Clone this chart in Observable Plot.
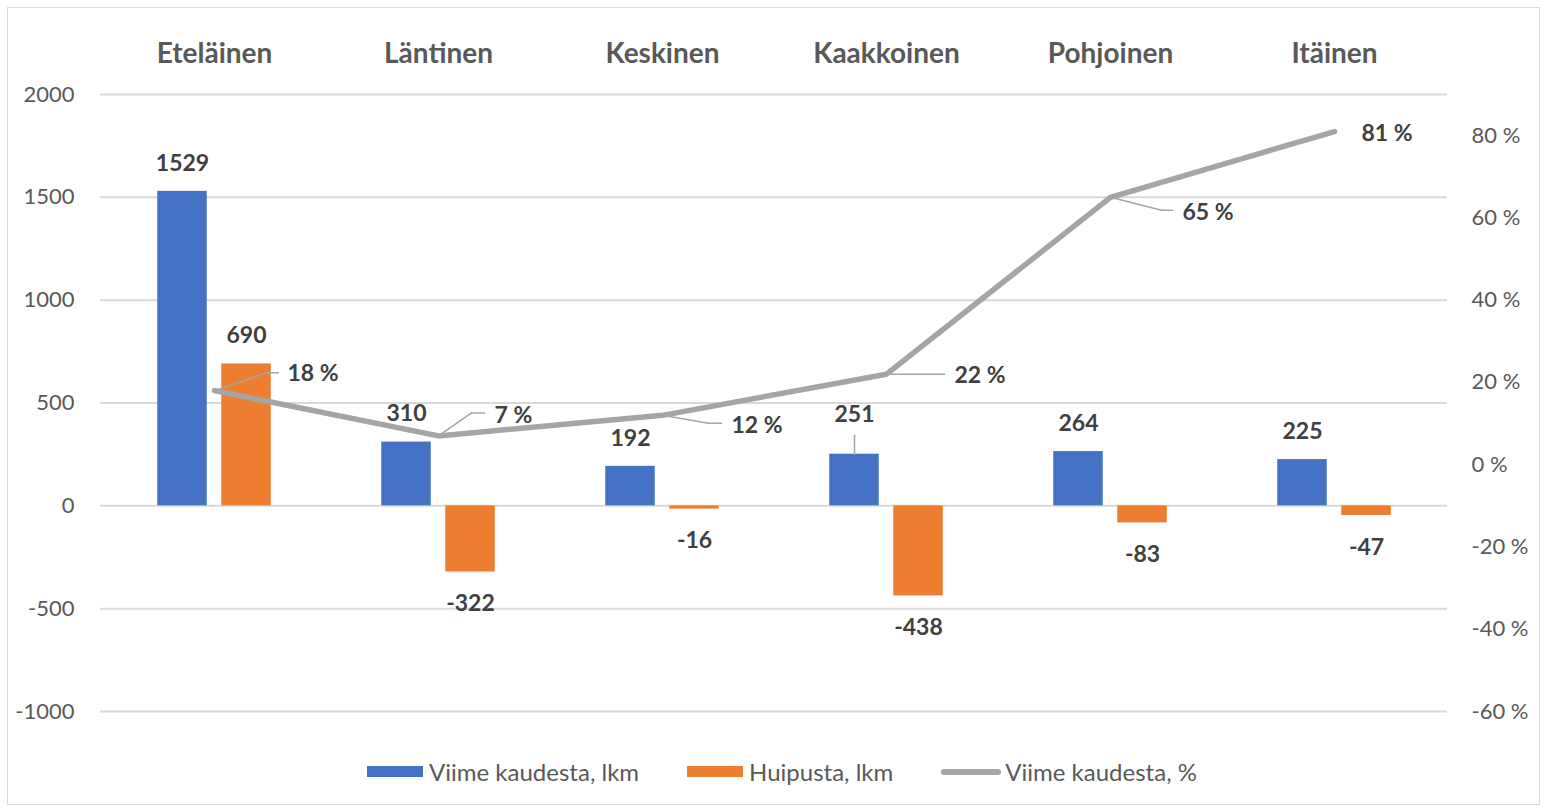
<!DOCTYPE html>
<html>
<head>
<meta charset="utf-8">
<script src="https://cdn.jsdelivr.net/npm/d3@7"></script>
<script src="https://cdn.jsdelivr.net/npm/@observablehq/plot@0.6"></script>
<style>
  html, body { margin: 0; padding: 0; background: #fff; }
  body { width: 1546px; height: 811px; position: relative; overflow: hidden; font-family: Lato, "Open Sans", sans-serif; }
  #frame { position: absolute; left: 7px; top: 7px; width: 1533px; height: 798px; border: 1.5px solid #D9D9D9; box-sizing: border-box; }
  #chart { position: absolute; left: 0; top: 0; }
  #legend { position: absolute; left: 18px; top: 757px; width: 1528px; display: flex; justify-content: center; align-items: center; gap: 48px; font-size: 24px; color: #595959; }
  .item { display: flex; align-items: center; }
  .sw { width: 56px; height: 11px; margin-right: 6px; }
  .ln { width: 60px; height: 6px; border-radius: 3px; margin-right: 4px; }
</style>
</head>
<body>
<div id="frame"></div>
<div id="chart"></div>
<div id="legend"></div>
<script>
// ---- data ----
const regions = ["Eteläinen", "Läntinen", "Keskinen", "Kaakkoinen", "Pohjoinen", "Itäinen"];
const fromLastCount = [1529, 310, 192, 251, 264, 225];      // Viime kaudesta, lkm
const fromPeakCount = [690, -322, -16, -438, -83, -47];     // Huipusta, lkm
const fromLastPct = [18, 7, 12, 22, 65, 81];                // Viime kaudesta, %
const leftTicks = [-1000, -500, 0, 500, 1000, 1500, 2000];
const pctTicks = [-60, -40, -20, 0, 20, 40, 60, 80];
const seriesNames = ["Viime kaudesta, lkm", "Huipusta, lkm", "Viime kaudesta, %"];
const seriesColors = ["#4472C4", "#ED7D31", "#A5A5A5"];

// ---- layout / styling ----
const W = 1546, H = 760;
const mL = 100, mR = 99, mT = 94, mB = 49;
const leftDomain = [-1000, 2000];
const pctDomain = [-60, 90];
// map secondary (percent) axis onto primary scale
const toLeft = p => leftDomain[0] + (p - pctDomain[0]) / (pctDomain[1] - pctDomain[0]) * (leftDomain[1] - leftDomain[0]);
const fromLeft = v => Math.round(pctDomain[0] + (v - leftDomain[0]) / (leftDomain[1] - leftDomain[0]) * (pctDomain[1] - pctDomain[0]));

const bandW = (W - mL - mR) / regions.length;
const barW = 50, barGap = 14;
const outer = (bandW - 2 * barW - barGap) / 2;
const barOffset = (barW + barGap) / 2;

// manual label placements (pixel offsets, like Excel's hand-moved labels)
const blueLabelLift = {"Kaakkoinen": 12};
const pctLabelPlacement = [
  {dx: 73, dy: -17, elbow: [53, -18], end: 64},
  {dx: 56, dy: -20, elbow: [33, -23], end: 46},
  {dx: 69, dy: 10, elbow: [46, 8], end: 59},
  {dx: 68, dy: 1, elbow: [5, 0], end: 58},
  {dx: 72, dy: 15, elbow: [51, 13], end: 62},
  {dx: 27, dy: 2, elbow: null}
];

const rows = regions.map((r, i) => ({region: r, last: fromLastCount[i], peak: fromPeakCount[i], pct: fromLastPct[i], place: pctLabelPlacement[i]}));

const lineShape = {draw(context, l) { context.moveTo(0, 0); context.lineTo(0, -l); }};
const labelFont = {fontSize: 23, fontWeight: "bold", fill: "#404040"};
const leaderStyle = {stroke: "#A5A5A5", strokeWidth: 1.5, anchor: "start", shape: lineShape};

const marks = [
  Plot.ruleY(leftTicks, {stroke: "#D9D9D9", strokeWidth: 2}),
  Plot.barY(rows, {x: "region", y1: 0, y2: "last", fill: seriesColors[0], insetLeft: outer, insetRight: outer + barW + barGap}),
  Plot.barY(rows, {x: "region", y1: 0, y2: "peak", fill: seriesColors[1], insetLeft: outer + barW + barGap, insetRight: outer}),
  Plot.line(rows, {x: "region", y: d => toLeft(d.pct), stroke: seriesColors[2], strokeWidth: 5.5, strokeLinecap: "round", strokeLinejoin: "round"}),
];

// blue labels
for (const d of rows) {
  const lift = blueLabelLift[d.region] || 0;
  marks.push(Plot.text([d], {x: "region", y: "last", text: dd => String(dd.last), dx: -barOffset, dy: (d.last >= 0 ? -28 : 32) - lift, ...labelFont}));
  if (lift) marks.push(Plot.vector([d], {x: "region", y: "last", dx: -barOffset, length: lift + 7, rotate: 0, ...leaderStyle}));
  marks.push(Plot.text([d], {x: "region", y: "peak", text: dd => String(dd.peak), dx: barOffset, dy: d.peak >= 0 ? -28 : 32, ...labelFont}));
}
// percent labels with leader lines
for (const d of rows) {
  const p = d.place;
  if (p.elbow) {
    const [ex, ey] = p.elbow;
    marks.push(Plot.vector([d], {x: "region", y: dd => toLeft(dd.pct), length: Math.hypot(ex, ey), rotate: Math.atan2(ex, -ey) * 180 / Math.PI, ...leaderStyle}));
    marks.push(Plot.vector([d], {x: "region", y: dd => toLeft(dd.pct), dx: ex, dy: ey, length: p.end - ex, rotate: 90, ...leaderStyle}));
  }
  marks.push(Plot.text([d], {x: "region", y: dd => toLeft(dd.pct), text: dd => `${dd.pct} %`, dx: p.dx, dy: p.dy, textAnchor: "start", ...labelFont}));
}

marks.push(
  Plot.axisX({anchor: "top", tickSize: 0, tickPadding: 32, fontSize: 28, fontWeight: "bold", color: "#595959", label: null}),
  Plot.axisY(leftTicks, {anchor: "left", tickSize: 0, tickPadding: 26, tickFormat: d => String(d), fontSize: 22, color: "#595959", label: null}),
  Plot.axisY(pctTicks.map(toLeft), {anchor: "right", tickSize: 0, tickPadding: 24, tickFormat: v => `${fromLeft(v)} %`, fontSize: 22, color: "#595959", label: null})
);

const chart = Plot.plot({
  width: W, height: H,
  marginLeft: mL, marginRight: mR, marginTop: mT, marginBottom: mB,
  style: {fontFamily: "Lato, 'Open Sans', sans-serif", background: "transparent"},
  x: {domain: regions, padding: 0},
  y: {domain: leftDomain},
  marks
});
document.getElementById("chart").appendChild(chart);

// legend
const legend = document.getElementById("legend");
seriesNames.forEach((name, i) => {
  const item = document.createElement("div");
  item.className = "item";
  const sw = document.createElement("div");
  sw.className = i < 2 ? "sw" : "ln";
  sw.style.background = seriesColors[i];
  const tx = document.createElement("span");
  tx.textContent = name;
  item.appendChild(sw); item.appendChild(tx);
  legend.appendChild(item);
});
</script>
</body>
</html>
